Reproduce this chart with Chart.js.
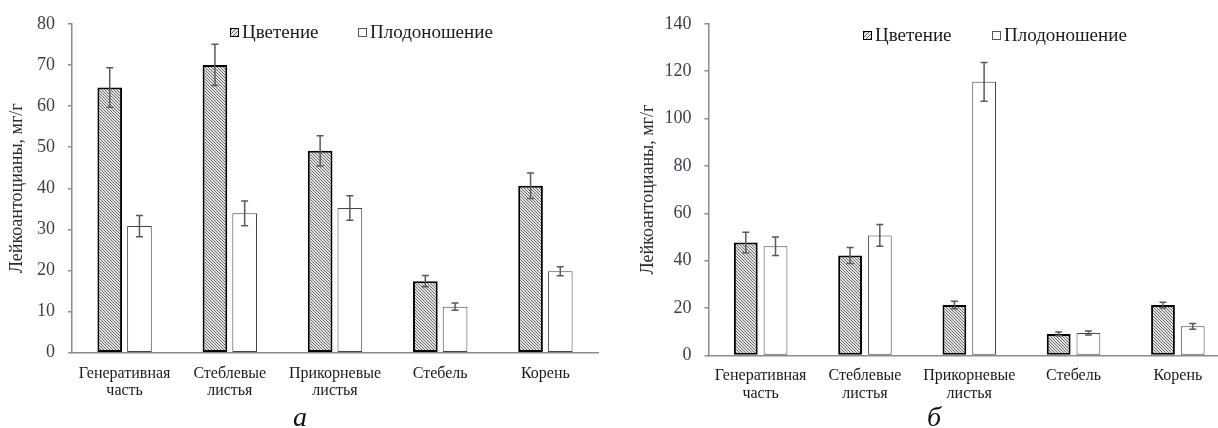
<!DOCTYPE html>
<html>
<head>
<meta charset="utf-8">
<script src="https://cdn.jsdelivr.net/npm/chart.js@4.4.1/dist/chart.umd.min.js"></script>
<style>
  html, body { margin:0; padding:0; width:1218px; height:428px; overflow:hidden; background:#fff; }
  canvas { position:absolute; top:0; }
  .lg { position:absolute; font-family:"Liberation Serif", serif; font-size:19px; color:#1a1a1a; line-height:19px; white-space:nowrap; }
  .box { position:absolute; width:9px; height:9px; box-sizing:border-box; }
  .hatch { border:1px solid #000; background:repeating-linear-gradient(135deg, #666 0 1px, #e6e6e6 1px 3px); }
  .plain { border:1px solid #555; background:#fff; }
  .sub { position:absolute; font-family:"Liberation Serif", serif; font-style:italic; font-size:28px; color:#111; }
</style>
</head>
<body>
<canvas id="cA" width="609" height="428" style="left:0px"></canvas>
<canvas id="cB" width="622" height="428" style="left:618px"></canvas>

<div class="box hatch" style="left:230px;top:28px"></div>
<div class="lg" style="left:242px;top:22px">Цветение</div>
<div class="box plain" style="left:358px;top:28px"></div>
<div class="lg" style="left:370px;top:22px">Плодоношение</div>

<div class="box hatch" style="left:863px;top:31px"></div>
<div class="lg" style="left:875px;top:25px">Цветение</div>
<div class="box plain" style="left:992px;top:31px"></div>
<div class="lg" style="left:1004px;top:25px">Плодоношение</div>

<div class="sub" style="left:293px;top:401px">а</div>
<div class="sub" style="left:927px;top:401px">б</div>

<script>
// ---- data ----
const categories = [["Генеративная","часть"],["Стеблевые","листья"],["Прикорневые","листья"],"Стебель","Корень"];
const seriesNames = ["Цветение","Плодоношение"];
const yTitle = "Лейкоантоцианы, мг/г";

const flowerA = [64.5, 70.0, 49.1, 17.4, 40.6];
const flowerErrA = [4.8, 5.0, 3.7, 1.35, 3.1];
const fruitA = [30.8, 33.9, 35.2, 11.2, 19.8];
const fruitErrA = [2.6, 3.0, 3.0, 0.9, 1.1];

const flowerB = [47.7, 42.2, 21.3, 9.1, 21.3];
const flowerErrB = [4.3, 3.4, 1.6, 0.8, 1.2];
const fruitB = [46.1, 50.7, 115.5, 9.5, 12.3];
const fruitErrB = [3.9, 4.6, 8.2, 0.8, 1.2];

const yTicksA = {min:0, max:80, step:10};
const yTicksB = {min:0, max:140, step:20};

// ---- hatch pattern ----
function makeHatch(){
  const t = document.createElement('canvas');
  t.width = 3; t.height = 3;
  const c = t.getContext('2d');
  c.fillStyle = '#e4e4e4'; c.fillRect(0,0,3,3);
  c.fillStyle = '#6a6a6a';
  c.fillRect(0,0,1,1); c.fillRect(1,1,1,1); c.fillRect(2,2,1,1);
  return document.getElementById('cA').getContext('2d').createPattern(t,'repeat');
}
const hatch = makeHatch();

const errorBars = {
  id:'errorBars',
  afterDatasetsDraw(chart){
    const ctx = chart.ctx, y = chart.scales.y;
    ctx.save();
    ctx.strokeStyle = '#5a5a5a';
    ctx.lineWidth = 1.5;
    chart.data.datasets.forEach((ds, di) => {
      const meta = chart.getDatasetMeta(di);
      meta.data.forEach((bar, i) => {
        const v = ds.data[i], e = ds.errors[i];
        const x = bar.x, y1 = y.getPixelForValue(v + e), y2 = y.getPixelForValue(v - e);
        ctx.beginPath();
        ctx.moveTo(x, y1); ctx.lineTo(x, y2);
        ctx.moveTo(x - 3.5, y1); ctx.lineTo(x + 3.5, y1);
        ctx.moveTo(x - 3.5, y2); ctx.lineTo(x + 3.5, y2);
        ctx.stroke();
      });
    });
    ctx.restore();
  }
};

function build(id, flower, fErr, fruit, frErr, yt, geom){
  return new Chart(document.getElementById(id), {
    type:'bar',
    data:{
      labels: categories,
      datasets:[
        {label:seriesNames[0], data:flower, errors:fErr, backgroundColor:hatch, borderColor:'#000', borderWidth:2, borderSkipped:false,
         categoryPercentage:geom.cat, barPercentage:geom.bar},
        {label:seriesNames[1], data:fruit, errors:frErr, backgroundColor:'#fff', borderColor:'#444', borderWidth:1, borderSkipped:false,
         categoryPercentage:geom.cat, barPercentage:geom.bar}
      ]
    },
    options:{
      responsive:false, animation:false, devicePixelRatio:1,
      layout:{padding:{top:geom.top, right:geom.right, bottom:0, left:0}},
      plugins:{legend:{display:false}, tooltip:{enabled:false}},
      scales:{
        x:{
          grid:{display:false, drawTicks:false},
          border:{display:true, color:'#8c8c8c', width:1.5},
          ticks:{color:'#1a1a1a', padding:12, maxRotation:0, autoSkip:false,
                 font:{family:'"Liberation Serif", serif', size:16, lineHeight:1.09}},
          afterFit(s){ s.height = geom.xh; }
        },
        y:{
          min:yt.min, max:yt.max,
          grid:{display:true, drawOnChartArea:false, drawTicks:true, tickLength:4, color:'#8c8c8c', lineWidth:1.5},
          border:{display:true, color:'#8c8c8c', width:1.5},
          ticks:{stepSize:yt.step, color:'#3a3f48', padding:13,
                 font:{family:'"Liberation Serif", serif', size:18}},
          title:{display:true, text:yTitle, color:'#2a2a2a', padding:{top:geom.tpad, bottom:0},
                 font:{family:'"Liberation Serif", serif', size:18}},
          afterFit(s){ s.width = geom.yw; }
        }
      }
    },
    plugins:[errorBars]
  });
}

build('cA', flowerA, flowerErrA, fruitA, fruitErrA, yTicksA,
      {cat:0.565, bar:0.83, top:19.3, right:11, xh:75.3, yw:72, tpad:6});
build('cB', flowerB, flowerErrB, fruitB, fruitErrB, yTicksB,
      {cat:0.57, bar:0.8, top:22.7, right:10, xh:72.5, yw:90.5, tpad:19});
</script>
</body>
</html>
